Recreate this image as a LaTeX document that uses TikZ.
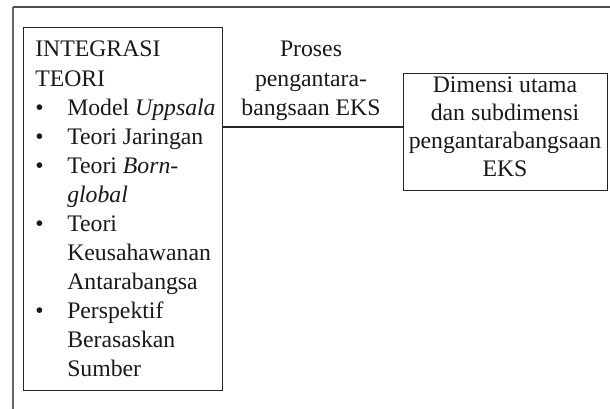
\documentclass[tikz,border=0pt]{standalone}
\usepackage{fontspec}
\setmainfont{Liberation Serif}
\usepackage{array}
\begin{document}
\begin{tikzpicture}[x=0.75pt,y=-0.75pt,
  box/.style={draw=black!85, line width=0.9pt, inner sep=0pt, anchor=north west},
  topline/.style={draw=black!70, line width=1pt},
  sideline/.style={draw=black!60, line width=1.6pt},
  txt/.style={inner sep=0pt, font=\fontsize{17.8}{21.8}\selectfont, text=black!90},
  conn/.style={draw=black!85, line width=0.9pt}]
\useasboundingbox (0,0) rectangle (610,409);
% partial outer frame
\coordinate (ftl) at (13,7);
\coordinate (ftr) at (611,7);
\coordinate (fbl) at (13,410);
\draw[topline] (ftl) -- (ftr);
\draw[sideline] (fbl) -- (ftl);
% boxes
\node[box, minimum width=149.25pt, minimum height=272.25pt] (teori) at (23,27) {};
\node[box, minimum width=153pt, minimum height=87.75pt] (dimensi) at (403,73) {};
% left text
\node[txt, anchor=base west] (teoritext) at (35,57) {%
\begin{tabular}[t]{@{}p{24pt}@{}l@{}}
\multicolumn{2}{@{}l@{}}{INTEGRASI}\\
\multicolumn{2}{@{}l@{}}{TEORI}\\
• & Model \textit{Uppsala}\\
• & Teori Jaringan\\
• & Teori \textit{Born-}\\
  & \textit{global}\\
• & Teori\\
  & Keusahawanan\\
  & Antarabangsa\\
• & Perspektif\\
  & Berasaskan\\
  & Sumber
\end{tabular}};
% middle label
\node[txt, anchor=base] (proses) at (311,57) {%
\begin{tabular}[t]{@{}c@{}}
Proses\\
pengantara-\\
bangsaan EKS
\end{tabular}};
% right text
\node[txt, anchor=base, font=\fontsize{17.8}{21}\selectfont] (dimensitext) at (505,93) {%
\begin{tabular}[t]{@{}c@{}}
Dimensi utama\\
dan subdimensi\\
pengantarabangsaan\\
EKS
\end{tabular}};
% connector
\draw[conn] (teori.east |- 0,127) -- (dimensi.west |- 0,127);
\end{tikzpicture}
\end{document}
